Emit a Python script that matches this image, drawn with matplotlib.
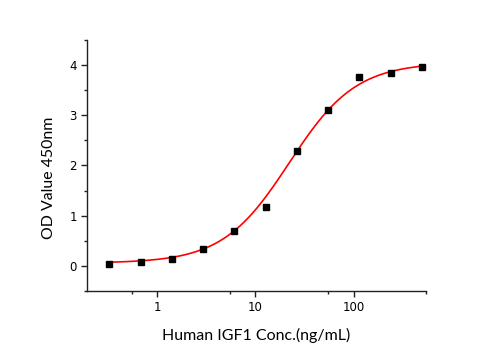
import numpy as np
import matplotlib
matplotlib.use("Agg")
import matplotlib.pyplot as plt
from matplotlib.ticker import FixedLocator, NullFormatter, MultipleLocator

# Data
conc = [0.325, 0.678, 1.41, 2.94, 6.08, 12.8, 26.4, 54.7, 114, 238, 496]
od = [0.04, 0.08, 0.14, 0.345, 0.70, 1.17, 2.28, 3.10, 3.76, 3.85, 3.96]

# 4PL fit parameters (estimated)
fit_bottom = 0.055
fit_top = 4.05
fit_ec50 = 22.1
fit_hill = 1.28

xticks = [1, 10, 100]
xtick_labels = ["1", "10", "100"]
xminor = [0.55, 5.5, 55, 550]
yticks = [0, 1, 2, 3, 4]

fig = plt.figure(figsize=(4.95, 3.5), dpi=100)
ax = fig.add_axes([0.175, 0.1686, 0.686, 0.7174])

xs = np.logspace(np.log10(conc[0]), np.log10(conc[-1]), 300)
ys = fit_bottom + (fit_top - fit_bottom) / (1 + (fit_ec50 / xs) ** fit_hill)
ax.plot(xs, ys, color="#ff0000", lw=1.2, zorder=2)
ax.plot(conc, od, linestyle="none", marker="s", ms=4.8, color="black", zorder=3)

ax.set_xscale("log")
ax.set_xlim(0.19, 550)
ax.set_ylim(-0.5, 4.5)
ax.xaxis.set_major_locator(FixedLocator(xticks))
ax.set_xticklabels(xtick_labels)
ax.xaxis.set_minor_locator(FixedLocator(xminor))
ax.xaxis.set_minor_formatter(NullFormatter())
ax.yaxis.set_major_locator(FixedLocator(yticks))
ax.yaxis.set_minor_locator(MultipleLocator(0.5))

for s in ["top", "right"]:
    ax.spines[s].set_visible(False)
for s in ["left", "bottom"]:
    ax.spines[s].set_linewidth(1.0)
    ax.spines[s].set_color("#222222")

ax.tick_params(which="major", direction="out", length=4, width=1, color="#222222",
               labelsize=8.5, pad=3)
ax.tick_params(which="minor", direction="out", length=2.5, width=1, color="#222222")

ax.set_xlabel("Human IGF1 Conc.(ng/mL)", fontsize=11.5, family="Lato", labelpad=10)
ax.set_ylabel("OD Value 450nm", fontsize=11.4, family="Lato")
ax.yaxis.set_label_coords(-0.09, 0.452)

fig.savefig("out.png", dpi=100)
